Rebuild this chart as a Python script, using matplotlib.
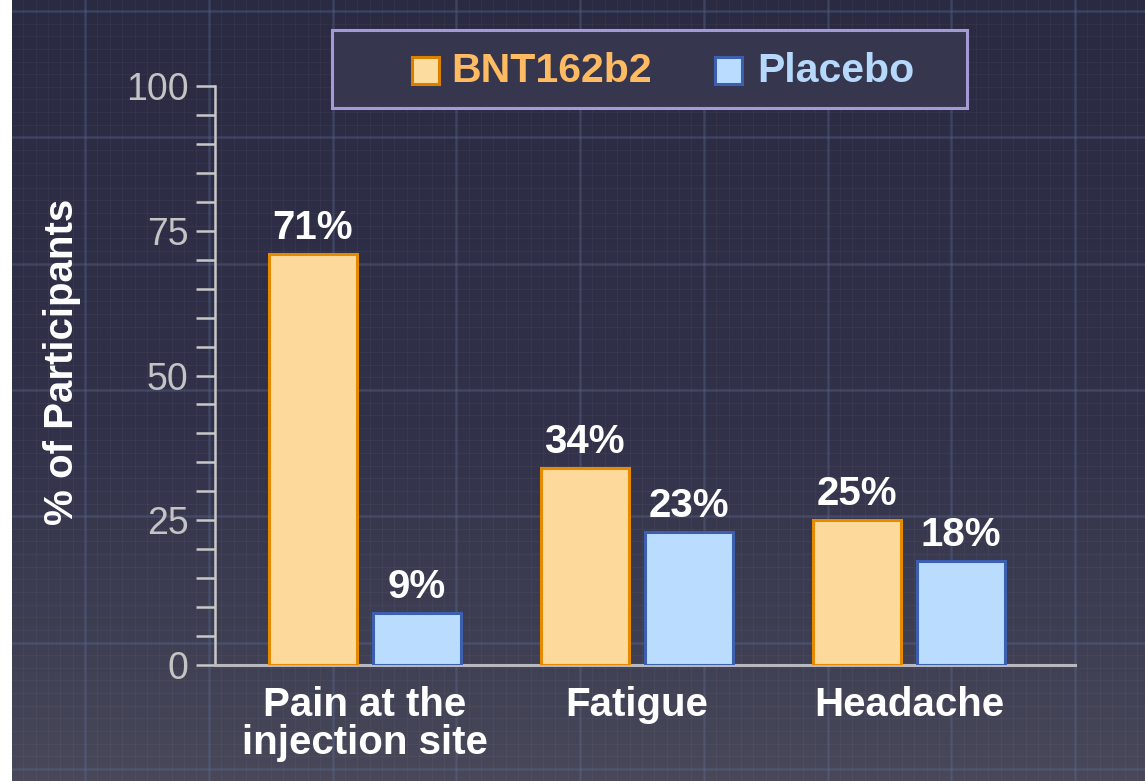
import numpy as np
import matplotlib
matplotlib.use("Agg")
import matplotlib.pyplot as plt
from matplotlib.colors import LinearSegmentedColormap
from matplotlib.patches import Rectangle

# Data
categories = ["Pain at the\ninjection site", "Fatigue", "Headache"]
bnt = [71, 34, 25]
placebo = [9, 23, 18]
series_names = ["BNT162b2", "Placebo"]

W, H = 1145, 781
plt.rcParams["font.family"] = ["Liberation Sans", "DejaVu Sans"]

fig = plt.figure(figsize=(W / 100, H / 100), dpi=100)
fig.patch.set_facecolor("white")

def fx(x):
    return x / W

def fy(y):
    return 1 - y / H

# background panel with faint grid
bg = fig.add_axes([fx(12), 0, 1 - fx(12), 1])
cmap = LinearSegmentedColormap.from_list("bgc", [(0, "#2a2a42"), (0.55, "#31314a"), (1, "#48485a")])
bg.imshow(np.linspace(0, 1, 200)[:, None], cmap=cmap, extent=[12, W, H, 0], aspect="auto")
for gx in np.arange(85 - 12.375 * 6, W, 12.375):
    bg.axvline(gx, color="#ffffff", lw=0.8, alpha=0.035)
for gy in np.arange(11, H, 12.63):
    bg.axhline(gy, color="#ffffff", lw=0.8, alpha=0.035)
for gx in np.arange(85, W, 123.75):
    bg.axvline(gx, color="#5a6a90", lw=2, alpha=0.3)
for gy in np.arange(11, H, 126.3):
    bg.axhline(gy, color="#5a6a90", lw=2, alpha=0.3)
bg.set_xlim(12, W)
bg.set_ylim(H, 0)
bg.axis("off")

# main chart
ax = fig.add_axes([fx(215), fy(665), fx(860), 579 / H])
ax.set_facecolor("none")
x = np.arange(len(categories))
off = 0.191
width = 0.324
b1 = ax.bar(x - off, bnt, width, color="#fdd99b", edgecolor="#e68a00", linewidth=2.2, zorder=3)
b2 = ax.bar(x + off, placebo, width, color="#b9dcff", edgecolor="#3d5fb0", linewidth=2.2, zorder=3)

for bars, vals in [(b1, bnt), (b2, placebo)]:
    for rect, v in zip(bars, vals):
        ax.annotate(f"{v}%", (rect.get_x() + rect.get_width() / 2, v), xytext=(0, 11),
                    textcoords="offset points", ha="center", va="baseline",
                    fontsize=29, fontweight="bold", color="white")

ax.set_xlim(-0.55, 2.61)
ax.set_ylim(0, 100)
ax.set_yticks([0, 25, 50, 75, 100])
ax.set_yticks(np.arange(0, 101, 5), minor=True)
ax.set_xticks(x)
ax.set_xticklabels(categories, fontsize=29, fontweight="bold", color="white", linespacing=1.0)
ax.tick_params(axis="x", length=0, pad=15)
ax.tick_params(axis="y", which="both", length=14, width=1.8, color="#c8c8c8",
               labelsize=27, labelcolor="#c4c4c4", pad=5)
for s in ["top", "right"]:
    ax.spines[s].set_visible(False)
ax.spines["left"].set_color("#c8c8c8")
ax.spines["left"].set_linewidth(1.8)
ax.spines["bottom"].set_color("#b8b8c0")
ax.spines["bottom"].set_linewidth(2.2)

fig.text(fx(62), fy(362), "% of Participants", rotation=90, ha="center", va="center",
         fontsize=29, fontweight="bold", color="white")

# legend box
fig.patches.append(Rectangle((fx(332), fy(108)), fx(635), 78 / H, transform=fig.transFigure,
                             facecolor="#36364f", edgecolor="#a49bd6", linewidth=2.2))
fig.patches.append(Rectangle((fx(412), fy(84)), fx(27), 27 / H, transform=fig.transFigure,
                             facecolor="#fddc9f", edgecolor="#d98000", linewidth=2.2))
fig.patches.append(Rectangle((fx(715), fy(84)), fx(27), 27 / H, transform=fig.transFigure,
                             facecolor="#b9dcff", edgecolor="#3d5fb0", linewidth=2.2))
fig.text(fx(451), fy(71), series_names[0], ha="left", va="center", fontsize=29.5,
         fontweight="bold", color="#ffbb62")
fig.text(fx(757), fy(71), series_names[1], ha="left", va="center", fontsize=29.5,
         fontweight="bold", color="#b5d8fb")

fig.savefig("out.png", dpi=100)
